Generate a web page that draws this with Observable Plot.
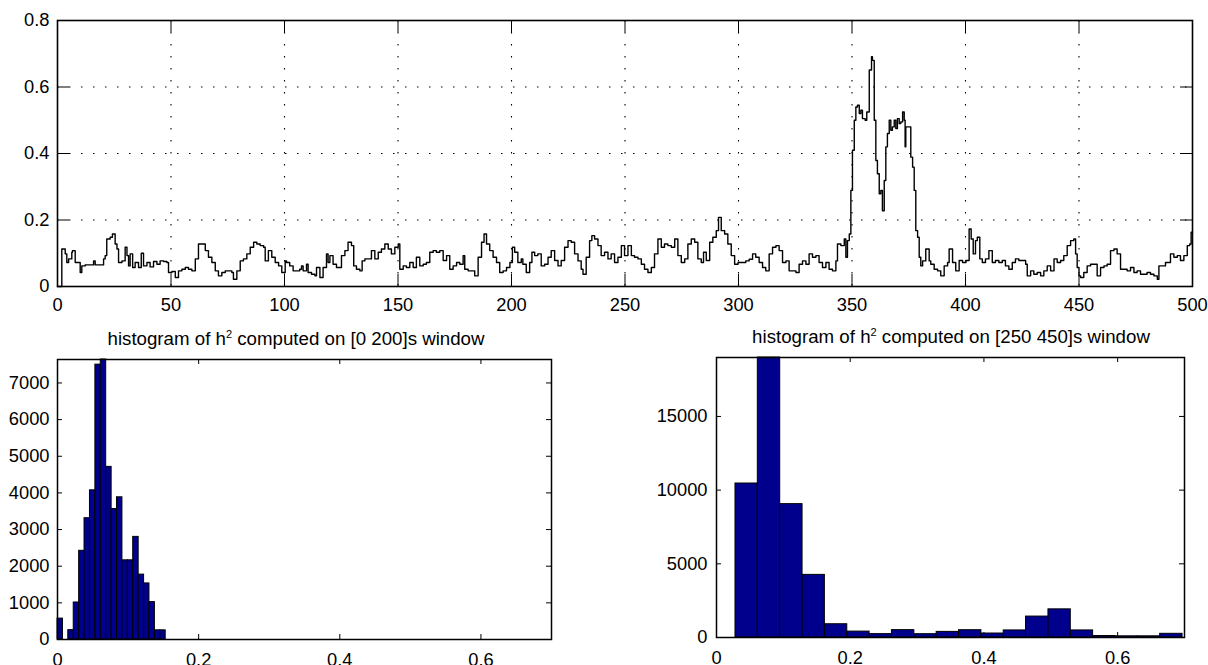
<!DOCTYPE html>
<html><head><meta charset="utf-8">
<script src="https://cdn.jsdelivr.net/npm/d3@7"></script>
<script src="https://cdn.jsdelivr.net/npm/@observablehq/plot@0.6"></script>
<style>
html,body{margin:0;padding:0;background:#fff;}
#wrap{position:relative;width:1208px;height:665px;overflow:hidden;font-family:"Liberation Sans",Arial,sans-serif;background:#fff;}
.panel{position:absolute;}
.title{position:absolute;font-size:18.7px;line-height:20px;white-space:nowrap;text-align:center;color:#000;}
.title sup{font-size:11px;vertical-align:7px;line-height:0;}
</style></head><body><div id="wrap"></div>
<script>
// ---- top panel: h^2 over time (s) ----
const time = [
  0, 1.9, 3.4, 4.1, 4.9, 6.3, 6.6, 7.8, 9.3, 10,
  10.7, 12.2, 13.7, 15.1, 15.9, 16.6, 18.1, 19.5, 20.3, 21,
  21.7, 23.2, 24.2, 25.4, 26.2, 26.9, 28.4, 29.8, 30.6, 31.3,
  32, 33.1, 34.2, 35.7, 36.9, 37.9, 39.4, 40.8, 42.3, 43.8,
  45.2, 46.7, 48.2, 48.9, 50.4, 51.9, 53.3, 54.8, 56.3, 57.7,
  59.2, 60.7, 62.1, 63.6, 65.1, 66.5, 68, 69.5, 70.9, 72.4,
  73.9, 75.3, 76.8, 77.5, 79, 80.5, 81.9, 83.4, 84.9, 86.4,
  87.8, 89.3, 90.8, 91.5, 92.9, 94.4, 95.9, 97.4, 98.8, 100.3,
  100.9, 102.3, 103.8, 105.3, 106.7, 107.5, 108.2, 109.7, 110.4, 111.9,
  113.4, 114.1, 115.6, 117.0, 118.5, 119.2, 120.0, 121.4, 122.9, 125.1,
  126.6, 128.0, 129.5, 130.5, 131.7, 133.2, 134.2, 135.4, 136.8, 138.3,
  139.8, 141.3, 142.7, 144.2, 145.7, 147.1, 148.6, 150.1, 150.8, 152.3,
  153.7, 155.2, 156.7, 158.1, 159.6, 161.1, 162.5, 164.0, 165.5, 166.9,
  168.4, 169.9, 171.4, 172.8, 174.3, 175.8, 177.2, 178.7, 179.4, 180.9,
  182.4, 183.8, 185.3, 186.8, 187.9, 189.0, 190.4, 191.9, 193.4, 194.8,
  196.3, 197.8, 199.3, 200.4, 201.4, 202.8, 204.3, 205.0, 206.5, 208.0,
  209.0, 210.2, 211.6, 213.1, 214.6, 216.1, 217.5, 219.0, 220.5, 221.9,
  223.4, 224.9, 226.3, 227.8, 229.3, 230.7, 231.5, 232.9, 234.4, 235.4,
  236.6, 238.1, 239.5, 241.0, 242.5, 243.9, 245.4, 246.9, 248.4, 249.8,
  251.3, 252.8, 254.2, 255.7, 257.2, 258.6, 260.1, 261.6, 263.0, 264.5,
  266.0, 267.4, 268.9, 270.4, 271.9, 273.3, 274.8, 276.3, 277.7, 279.2,
  280.7, 282.1, 283.6, 284.6, 285.8, 287.3, 288.7, 290.2, 291.2, 292.4,
  293.9, 295.3, 296.8, 298.3, 299.8, 301.8, 303.2, 304.7, 306.2, 307.6,
  309.1, 310.6, 312.0, 313.5, 315.0, 316.5, 317.9, 319.4, 320.9, 322.3,
  323.8, 325.3, 326.7, 328.2, 329.7, 331.1, 332.6, 334.1, 335.5, 337.0,
  338.5, 339.9, 341.4, 342.9, 343.6, 345.1, 346.6, 347.3, 348.0, 348.8,
  349.5, 350.2, 351.0, 351.7, 352.4, 353.2, 353.9, 354.6, 355.8, 356.5,
  357.6, 358.6, 359.0, 359.8, 360.5, 361.2, 362.0, 362.7, 363.4, 364.2,
  364.9, 365.6, 366.4, 367.1, 367.8, 368.6, 369.3, 370.0, 370.8, 371.5,
  372.3, 373.0, 373.4, 373.7, 375.2, 375.9, 376.7, 377.4, 378.1, 378.9,
  379.6, 380.3, 381.1, 382.5, 384.0, 384.7, 386.2, 387.7, 389.1, 390.6,
  392.1, 392.8, 394.3, 395.7, 397.2, 398.7, 400.2, 401.6, 402.5, 403.4,
  404.4, 405.2, 406.3, 407.4, 408.8, 410.3, 411.8, 413.2, 414.7, 416.2,
  417.6, 419.1, 420.6, 422.0, 423.5, 425.0, 426.5, 427.2, 428.7, 430.1,
  431.6, 433.1, 434.5, 436.0, 437.5, 439.0, 440.4, 441.9, 443.3, 444.8,
  446.3, 447.7, 448.5, 449.2, 450.0, 450.7, 452.1, 453.6, 455.1, 456.5,
  458.0, 459.5, 461.0, 462.4, 463.9, 465.4, 466.8, 468.3, 469.8, 471.2,
  472.7, 474.2, 475.6, 477.1, 478.6, 480.0, 481.5, 483.0, 484.5, 485.2,
  486.7, 488.1, 489.6, 490.3, 491.8, 493.3, 494.7, 496.2, 497.7, 498.8,
  499.4, 500.0
];
const h2 = [
  0, 0.113, 0.098, 0.072, 0.083, 0.103, 0.108, 0.072, 0.072, 0.042,
  0.062, 0.065, 0.065, 0.065, 0.077, 0.065, 0.065, 0.065, 0.083, 0.093,
  0.143, 0.148, 0.158, 0.128, 0.113, 0.072, 0.077, 0.118, 0.093, 0.062,
  0.098, 0.057, 0.072, 0.057, 0.1, 0.062, 0.072, 0.059, 0.075, 0.067,
  0.077, 0.075, 0.072, 0.042, 0.045, 0.027, 0.047, 0.052, 0.057, 0.052,
  0.047, 0.083, 0.128, 0.128, 0.108, 0.088, 0.072, 0.047, 0.032, 0.042,
  0.047, 0.047, 0.042, 0.022, 0.047, 0.077, 0.083, 0.098, 0.118, 0.133,
  0.128, 0.123, 0.118, 0.077, 0.108, 0.088, 0.072, 0.062, 0.042, 0.077,
  0.072, 0.062, 0.047, 0.047, 0.052, 0.062, 0.047, 0.067, 0.042, 0.037,
  0.032, 0.057, 0.027, 0.057, 0.098, 0.072, 0.093, 0.067, 0.057, 0.093,
  0.108, 0.133, 0.123, 0.062, 0.052, 0.047, 0.077, 0.083, 0.083, 0.108,
  0.083, 0.103, 0.113, 0.128, 0.113, 0.098, 0.118, 0.128, 0.052, 0.062,
  0.057, 0.072, 0.057, 0.088, 0.062, 0.067, 0.072, 0.103, 0.108, 0.103,
  0.108, 0.078, 0.093, 0.052, 0.062, 0.072, 0.067, 0.093, 0.052, 0.047,
  0.047, 0.032, 0.088, 0.133, 0.158, 0.128, 0.108, 0.088, 0.072, 0.042,
  0.047, 0.057, 0.072, 0.118, 0.103, 0.072, 0.083, 0.067, 0.042, 0.072,
  0.103, 0.093, 0.098, 0.062, 0.067, 0.088, 0.108, 0.078, 0.062, 0.078,
  0.118, 0.138, 0.133, 0.098, 0.077, 0.052, 0.037, 0.088, 0.138, 0.153,
  0.143, 0.123, 0.093, 0.103, 0.083, 0.098, 0.072, 0.088, 0.123, 0.093,
  0.123, 0.093, 0.088, 0.083, 0.067, 0.052, 0.042, 0.057, 0.098, 0.143,
  0.118, 0.128, 0.123, 0.118, 0.143, 0.093, 0.072, 0.083, 0.128, 0.143,
  0.133, 0.083, 0.072, 0.103, 0.078, 0.133, 0.148, 0.168, 0.208, 0.168,
  0.158, 0.128, 0.093, 0.067, 0.072, 0.072, 0.077, 0.082, 0.098, 0.088,
  0.072, 0.057, 0.047, 0.098, 0.118, 0.123, 0.108, 0.072, 0.077, 0.047,
  0.047, 0.042, 0.067, 0.077, 0.067, 0.098, 0.088, 0.093, 0.072, 0.057,
  0.072, 0.052, 0.047, 0.077, 0.128, 0.123, 0.143, 0.088, 0.138, 0.158,
  0.289, 0.41, 0.5, 0.54, 0.545, 0.52, 0.53, 0.505, 0.5, 0.525,
  0.651, 0.691, 0.68, 0.5, 0.379, 0.339, 0.279, 0.289, 0.228, 0.319,
  0.42, 0.46, 0.5, 0.47, 0.48, 0.5, 0.475, 0.505, 0.49, 0.495,
  0.525, 0.5, 0.42, 0.48, 0.48, 0.389, 0.359, 0.289, 0.168, 0.148,
  0.088, 0.062, 0.077, 0.113, 0.077, 0.067, 0.052, 0.047, 0.032, 0.062,
  0.072, 0.113, 0.072, 0.047, 0.078, 0.072, 0.078, 0.173, 0.143, 0.098,
  0.138, 0.148, 0.083, 0.072, 0.083, 0.108, 0.072, 0.078, 0.072, 0.078,
  0.062, 0.052, 0.072, 0.083, 0.078, 0.078, 0.067, 0.032, 0.047, 0.037,
  0.042, 0.032, 0.047, 0.062, 0.047, 0.083, 0.072, 0.078, 0.093, 0.123,
  0.138, 0.143, 0.098, 0.057, 0.032, 0.027, 0.042, 0.062, 0.067, 0.067,
  0.032, 0.057, 0.062, 0.067, 0.108, 0.113, 0.098, 0.052, 0.052, 0.047,
  0.057, 0.042, 0.047, 0.037, 0.037, 0.042, 0.037, 0.032, 0.022, 0.062,
  0.062, 0.072, 0.072, 0.098, 0.088, 0.093, 0.078, 0.093, 0.123, 0.128,
  0.163, 0.165
];
const topXTicks = [0, 50, 100, 150, 200, 250, 300, 350, 400, 450, 500];
const topYTicks = [0, 0.2, 0.4, 0.6, 0.8];
const topXGrid = [50, 100, 150, 200, 250, 300, 350, 400, 450];
const topYGrid = [0.2, 0.4, 0.6];

// ---- left histogram: [0 200]s window ----
const leftBinStart = [0, 0.0077, 0.0153, 0.0230, 0.0307, 0.0383, 0.0460, 0.0537, 0.0613, 0.0690,
                      0.0767, 0.0843, 0.0920, 0.0997, 0.1073, 0.1150, 0.1227, 0.1303, 0.1380, 0.1457];
const leftBinEnd   = [0.0077, 0.0153, 0.0230, 0.0307, 0.0383, 0.0460, 0.0537, 0.0613, 0.0690, 0.0767,
                      0.0843, 0.0920, 0.0997, 0.1073, 0.1150, 0.1227, 0.1303, 0.1380, 0.1457, 0.1533];
const leftCounts   = [570, 0, 255, 1010, 2420, 3310, 4070, 7500, 7640, 4710,
                      3560, 3880, 2160, 2160, 2800, 1770, 1530, 1020, 250, 250];
const leftYTicks = [0, 1000, 2000, 3000, 4000, 5000, 6000, 7000];

// ---- right histogram: [250 450]s window ----
const rightBinStart = [0.0284, 0.0618, 0.0953, 0.1287, 0.1621, 0.1956, 0.2290, 0.2624, 0.2959, 0.3293,
                       0.3627, 0.3962, 0.4296, 0.4630, 0.4965, 0.5299, 0.5633, 0.5968, 0.6302, 0.6636];
const rightBinEnd   = [0.0618, 0.0953, 0.1287, 0.1621, 0.1956, 0.2290, 0.2624, 0.2959, 0.3293, 0.3627,
                       0.3962, 0.4296, 0.4630, 0.4965, 0.5299, 0.5633, 0.5968, 0.6302, 0.6636, 0.6971];
const rightCounts   = [10450, 19000, 9050, 4250, 900, 400, 230, 500, 225, 380,
                       495, 270, 480, 1420, 1910, 480, 100, 80, 80, 250];
const rightYTicks = [0, 5000, 10000, 15000];
const histXTicks = [0, 0.2, 0.4, 0.6];

const titleLeft = "[0 200]s window";
const titleRight = "[250 450]s window";

// ---- build ----
const FONT = "'Liberation Sans', Arial, Helvetica, sans-serif";
const baseStyle = {fontFamily: FONT, fontSize: "18.3px", color: "#000", background: "#fff"};
const fmt = d => String(d);
const wrap = document.getElementById("wrap");

function place(el, left, top) {
  el.classList.add("panel");
  el.style.left = left + "px";
  el.style.top = top + "px";
  wrap.appendChild(el);
}

const series = time.map((t, i) => ({t, v: h2[i]}));
const grid = {stroke: "#000", strokeWidth: 1.1, strokeDasharray: "1.5,10.5"};

const topPlot = Plot.plot({
  width: 1208, height: 320,
  marginLeft: 57, marginRight: 16, marginTop: 20, marginBottom: 34,
  style: baseStyle,
  x: {domain: [0, 500], ticks: topXTicks, tickSize: 0, tickPadding: 11, tickFormat: fmt, label: null},
  y: {domain: [0, 0.8], ticks: topYTicks, tickSize: 0, tickPadding: 8, tickFormat: fmt, label: null},
  marks: [
    Plot.ruleX(topXGrid, {x: d => d, ...grid}),
    Plot.ruleY(topYGrid, {y: d => d, ...grid}),
    Plot.tickX(topXTicks, {x: d => d, insetTop: 254, stroke: "#000"}),
    Plot.tickX(topXTicks, {x: d => d, insetBottom: 254, stroke: "#000"}),
    Plot.tickY(topYTicks, {y: d => d, insetRight: 1123, stroke: "#000"}),
    Plot.tickY(topYTicks, {y: d => d, insetLeft: 1123, stroke: "#000"}),
    Plot.line(series, {x: "t", y: "v", curve: "step-after", stroke: "#000", strokeWidth: 1.4}),
    Plot.frame({stroke: "#000", strokeWidth: 1.6})
  ]
});
place(topPlot, 0, 0);

function hist(starts, ends, counts, yTicks, ymax, opts) {
  const data = counts.map((c, i) => ({x1: starts[i], x2: ends[i], c}));
  const fw = opts.width - opts.marginLeft - opts.marginRight;
  const fh = opts.height - opts.marginTop - opts.marginBottom;
  return Plot.plot({
    ...opts,
    style: baseStyle,
    x: {domain: [0, 0.7], ticks: histXTicks, tickSize: 0, tickPadding: 13, tickFormat: fmt, label: null},
    y: {domain: [0, ymax], ticks: yTicks, tickSize: 0, tickPadding: opts.yPad, tickFormat: fmt, label: null},
    marks: [
      Plot.tickX(histXTicks, {x: d => d, insetTop: fh - 5, stroke: "#000"}),
      Plot.tickX(histXTicks, {x: d => d, insetBottom: fh - 5, stroke: "#000"}),
      Plot.tickY(yTicks, {y: d => d, insetRight: fw - 5, stroke: "#000"}),
      Plot.tickY(yTicks, {y: d => d, insetLeft: fw - 5, stroke: "#000"}),
      Plot.rectY(data, {x1: "x1", x2: "x2", y: "c", fill: "#00008c", stroke: "#000", strokeWidth: 1}),
      Plot.frame({stroke: "#000", strokeWidth: 1.5})
    ]
  });
}

const leftPlot = hist(leftBinStart, leftBinEnd, leftCounts, leftYTicks, 7640,
  {width: 600, height: 335, marginLeft: 57, marginRight: 49, marginTop: 29, marginBottom: 26, yPad: 8});
place(leftPlot, 0, 330);

const rightPlot = hist(rightBinStart, rightBinEnd, rightCounts, rightYTicks, 19000,
  {width: 588, height: 335, marginLeft: 96, marginRight: 24, marginTop: 27, marginBottom: 28, yPad: 9});
place(rightPlot, 620, 330);

function title(windowText, centerX, top) {
  const d = document.createElement("div");
  d.className = "title";
  d.style.left = (centerX - 300) + "px";
  d.style.width = "600px";
  d.style.top = top + "px";
  d.innerHTML = "histogram of h<sup>2</sup> computed on " + windowText;
  wrap.appendChild(d);
}
title(titleLeft, 296, 329);
title(titleRight, 951, 327);
</script></body></html>
